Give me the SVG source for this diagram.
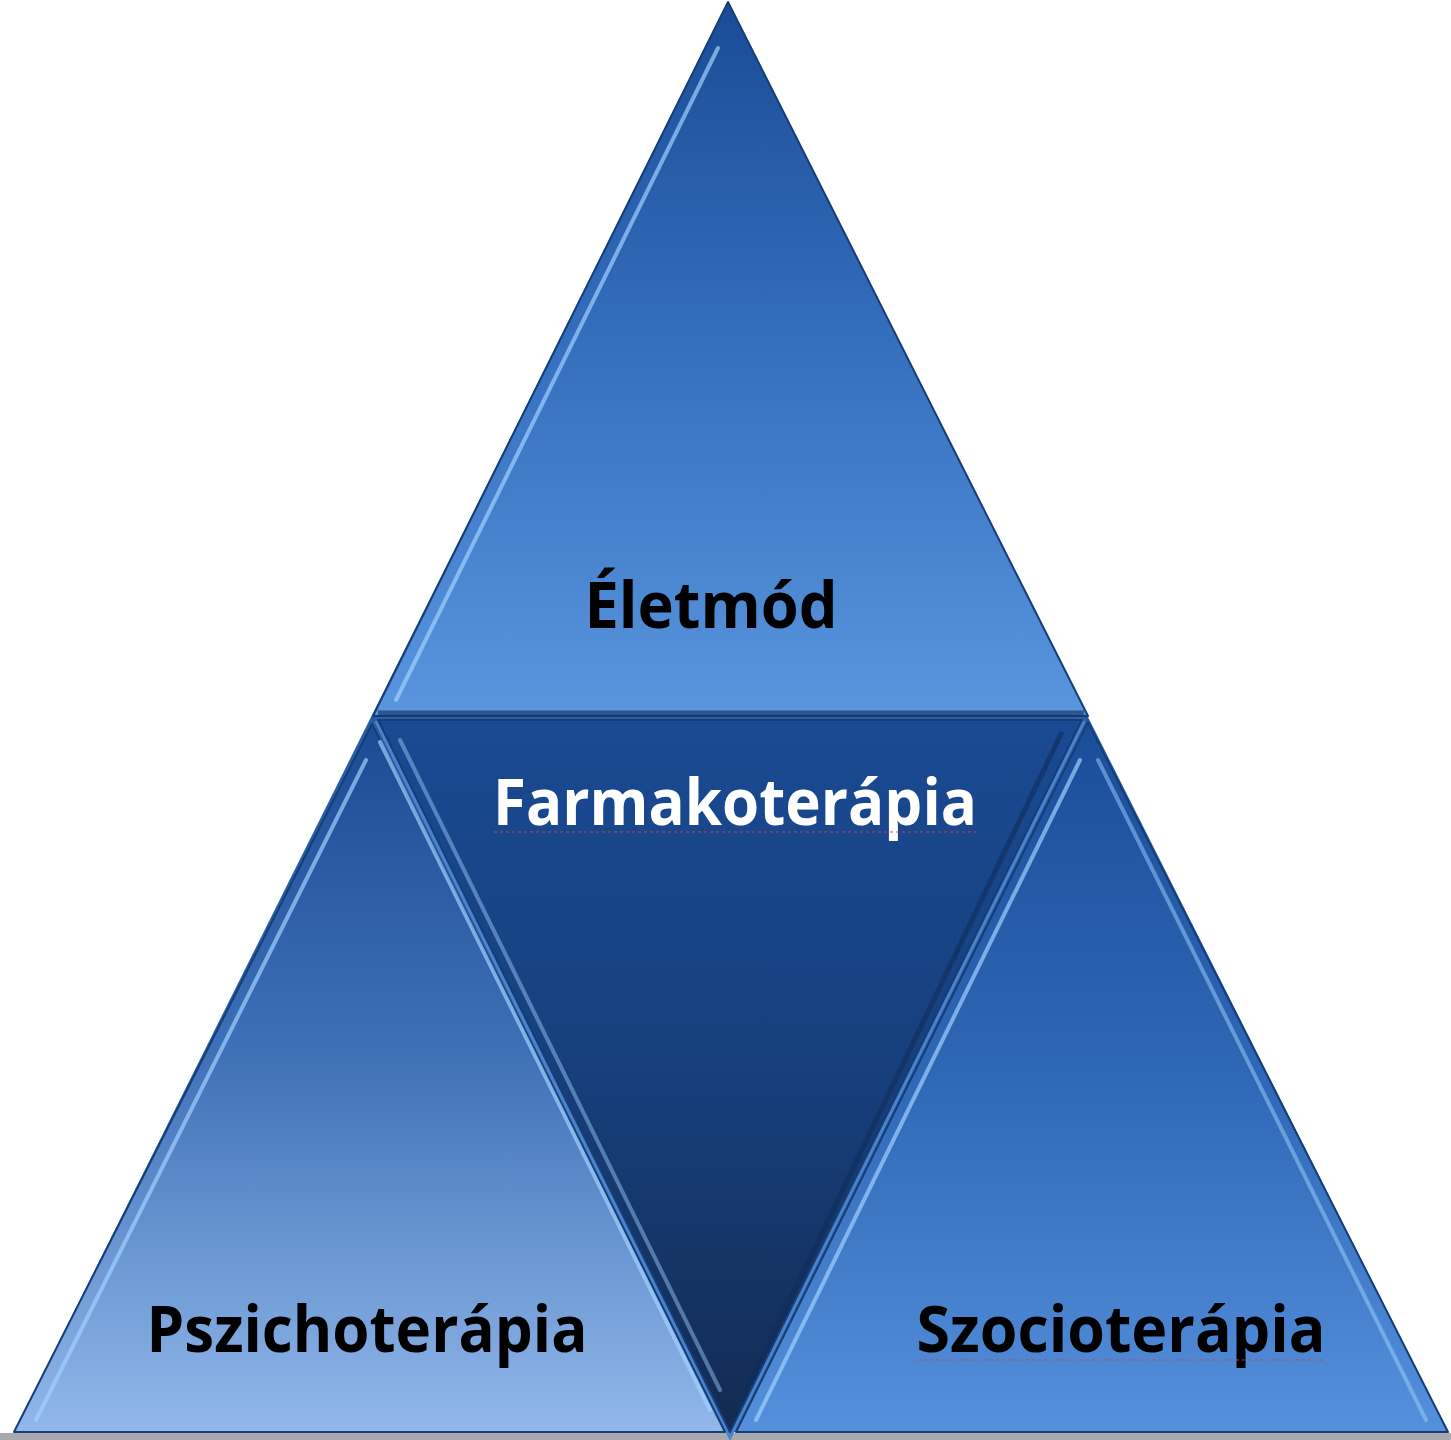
<svg xmlns="http://www.w3.org/2000/svg" width="1451" height="1440" viewBox="0 0 1451 1440">
<defs>
<linearGradient id="gTop" x1="0" y1="0" x2="0" y2="1"><stop offset="0" stop-color="#1a4c96"/><stop offset="0.5" stop-color="#3670bf"/><stop offset="1" stop-color="#5a95de"/></linearGradient>
<linearGradient id="gLeft" x1="0" y1="0" x2="0" y2="1"><stop offset="0" stop-color="#1b4b93"/><stop offset="0.45" stop-color="#3d6fb6"/><stop offset="1" stop-color="#92b8ea"/></linearGradient>
<linearGradient id="gMid" x1="0" y1="0" x2="0" y2="1"><stop offset="0" stop-color="#1a4a93"/><stop offset="0.5" stop-color="#173f7c"/><stop offset="1" stop-color="#132b52"/></linearGradient>
<linearGradient id="gRight" x1="0" y1="0" x2="0" y2="1"><stop offset="0" stop-color="#1a4d99"/><stop offset="0.5" stop-color="#2f68b6"/><stop offset="1" stop-color="#5590dc"/></linearGradient>
<style>
.edge{stroke:#163d75;stroke-width:2;stroke-linejoin:round}
.hl{fill:none;stroke:#9fd0ff;stroke-width:4;stroke-linecap:round;opacity:0.7}
.sh{fill:none;stroke:#0f2d5c;stroke-width:5;opacity:0.6}
.lbl{font-family:"Open Sans","Noto Sans","Liberation Sans",sans-serif;font-weight:700;font-size:64px}
.spell{fill:none;stroke:#d04050;stroke-width:1.5;stroke-dasharray:3 3;opacity:0.6}
</style>
</defs>
<rect width="1451" height="1440" fill="#ffffff"/>
<rect x="0" y="1433" width="1451" height="7" fill="#a9a9ad"/>
<polygon points="728,2 1448,1432 14,1432" fill="#2a5ca6"/>
<polyline points="378,720 730,1432 1082,720" fill="none" stroke="#4a82cc" stroke-width="8"/>
<g id="top">
<polygon class="edge" points="728,2 1088,716 373,716" fill="url(#gTop)"/>
<polyline class="hl" points="718,48 396,700"/>
<polyline class="sh" points="378,713 1084,713"/>
<text class="lbl" x="711" y="628" text-anchor="middle" fill="#000000" textLength="253" lengthAdjust="spacingAndGlyphs">Életmód</text>
</g>
<g id="left">
<polygon class="edge" points="372,724 725,1432 14,1432" fill="url(#gLeft)"/>
<polyline class="hl" points="366,760 36,1420"/>
<polyline class="hl" points="380,742 710,1410"/>
<text class="lbl" x="367" y="1352" text-anchor="middle" fill="#000000" textLength="441" lengthAdjust="spacingAndGlyphs">Pszichoterápia</text>
</g>
<g id="middle">
<polygon class="edge" points="378,720 1082,720 730,1432" fill="url(#gMid)"/>
<polyline class="hl" points="400,740 720,1390" style="opacity:0.45"/>
<polyline class="sh" points="1062,732 742,1400"/>
<text class="lbl" x="735" y="825" text-anchor="middle" fill="#ffffff" textLength="484" lengthAdjust="spacingAndGlyphs">Farmakoterápia</text>
<polyline class="spell" points="494,832 976,832"/>
</g>
<g id="right">
<polygon class="edge" points="1088,722 1448,1432 736,1432" fill="url(#gRight)"/>
<polyline class="hl" points="1080,760 756,1420"/>
<polyline class="hl" points="1098,760 1426,1420" style="opacity:0.5"/>
<text class="lbl" x="1121" y="1352" text-anchor="middle" fill="#000000" textLength="409" lengthAdjust="spacingAndGlyphs">Szocioterápia</text>
<polyline class="spell" points="918,1360 1326,1360"/>
</g>
<g id="connectors"></g>
</svg>
